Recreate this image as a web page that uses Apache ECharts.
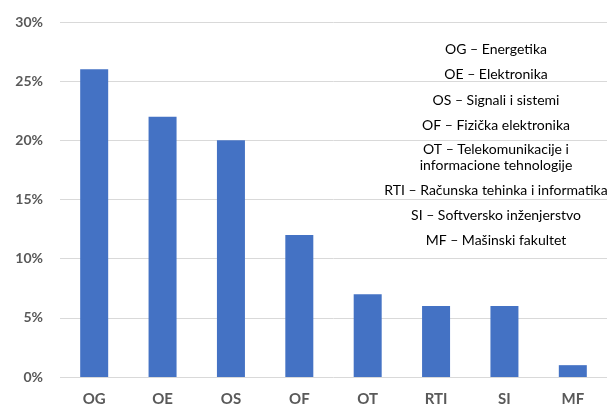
<!DOCTYPE html>
<html>
<head>
<meta charset="utf-8">
<script src="https://cdn.jsdelivr.net/npm/echarts@6/dist/echarts.min.js"></script>
<style>
html,body{margin:0;padding:0;background:#fff;}
#c{width:607px;height:407px;}
</style>
</head>
<body>
<div id="c"></div>
<script>
var categories = ['OG','OE','OS','OF','OT','RTI','SI','MF'];
var values = [26, 22, 20, 12, 7, 6, 6, 1];
var yTicks = [0, 5, 10, 15, 20, 25, 30];
var legendLines = [
  'OG – Energetika',
  'OE – Elektronika',
  'OS – Signali i sistemi',
  'OF – Fizička elektronika',
  'OT – Telekomunikacije i\ninformacione tehnologije',
  'RTI – Računska tehinka i informatika',
  'SI – Softversko inženjerstvo',
  'MF – Mašinski fakultet'
];
var legendY = [49, 74, 100, 125, 157, 190, 215, 240];

var chart = echarts.init(document.getElementById('c'), null, {renderer:'canvas'});
var graphics = legendLines.map(function(t, i){
  return {
    type:'text', x: 496, y: legendY[i], z: 10,
    style:{ text:t, x:0, y:0, textAlign:'center', textVerticalAlign:'middle',
      font:'14px Lato', fill:'#000', lineHeight:16 }
  };
});
chart.setOption({
  animation:false,
  grid:{ left:60, top:22, width:551, bottom:30, containLabel:false },
  xAxis:{
    type:'category', data:categories,
    axisLine:{show:false}, axisTick:{show:false},
    axisLabel:{ color:'#595959', fontFamily:'Lato', fontWeight:'bold', fontSize:15, margin:15 }
  },
  yAxis:{
    type:'value', min:yTicks[0], max:yTicks[yTicks.length-1], interval:5,
    axisLine:{show:false}, axisTick:{show:false},
    axisLabel:{ formatter:'{value}%', color:'#595959', fontFamily:'Lato', fontWeight:'bold', fontSize:14, margin:17 },
    splitLine:{ lineStyle:{ color:'#D9D9D9', width:1 } }
  },
  series:[{
    type:'bar', data:values, barWidth:28,
    itemStyle:{ color:'#4472C4' }
  }],
  graphic: graphics
});
</script>
</body>
</html>
